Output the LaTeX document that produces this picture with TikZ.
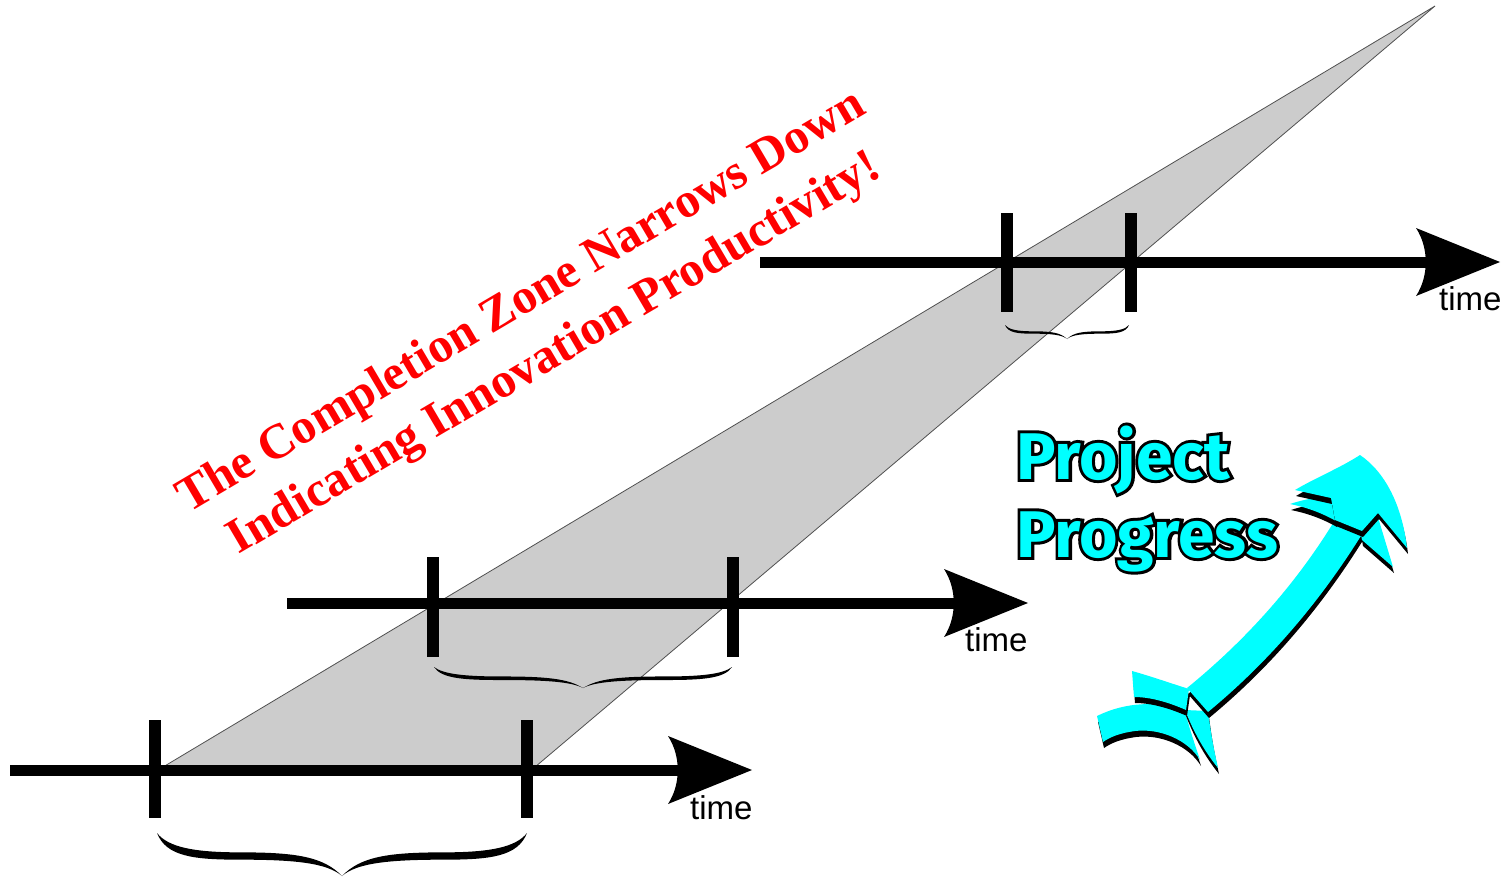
\documentclass[tikz,border=0pt]{standalone}
\usepackage{fontspec}
\setmainfont{Liberation Sans}
\newfontfamily\serifbold{Liberation Serif}
\newfontfamily\ppfont{Fira Sans}
\newfontfamily\ppoutline{Fira Sans}[BoldFeatures={FakeBold=9}]
\usetikzlibrary{calc}
\definecolor{zonegray}{HTML}{CCCCCC}
\definecolor{zoneedge}{HTML}{505050}
\definecolor{arrowcyan}{HTML}{00FFFF}
\definecolor{titlered}{HTML}{FF0000}
\tikzset{
  axisline/.style={line width=11pt, line cap=butt},
  tickmark/.style={line width=12pt, line cap=butt},
  timelbl/.style={font=\fontsize{33}{38}\selectfont, inner sep=0pt, anchor=base west},
  redlbl/.style={font=\serifbold\bfseries\fontsize{49.2}{59}\selectfont, text=titlered, inner sep=0pt, anchor=base, rotate=30.5},
  pplbl/.style={font=\ppfont\bfseries\fontsize{66}{76}\selectfont, inner sep=0pt, anchor=base west},
  ppoutlbl/.style={font=\ppoutline\bfseries\fontsize{66}{76}\selectfont, inner sep=0pt, anchor=base west, text=black},
  cyanpart/.style={fill=arrowcyan},
  shadowpart/.style={fill=black, shift={(1,6)}},
}
\newcommand\axhead[1]{\begin{scope}[shift={(#1)}]
  \fill (0,0) -- (-84,-34) .. controls (-71,-14) and (-71,14) .. (-84,34) -- cycle;
\end{scope}}
\newcommand\halfbracepath{(0,0) .. controls (0.05,0.55) and (0.2,0.62) .. (0.45,0.62) .. controls (0.75,0.62) and (0.92,0.7) .. (1,1) .. controls (0.9,0.55) and (0.75,0.45) .. (0.45,0.45) .. controls (0.2,0.45) and (0.06,0.33) .. (0,0) -- cycle}
\newcommand\cbrace[4]{%
  \pgfmathsetmacro\hw{(#2-#1)/2}%
  \begin{scope}[shift={(#1,#3)}, x={(\hw pt,0pt)}, y={(0pt,-#4 pt)}] \fill \halfbracepath; \end{scope}
  \begin{scope}[shift={(#2,#3)}, x={(-\hw pt,0pt)}, y={(0pt,-#4 pt)}] \fill \halfbracepath; \end{scope}}
\newcommand\shadowed[1]{\fill[shadowpart] #1; \fill[cyanpart] #1;}
\begin{document}
\begin{tikzpicture}[x=1pt, y=-1pt]
\useasboundingbox (0,0) rectangle (1507,878);
\fill[white] (0,0) rectangle (1507,878);

% completion zone
\filldraw[fill=zonegray, draw=zoneedge, line width=0.8pt] (163,767) -- (1435,6) -- (535,767) -- cycle;

% axes
\coordinate (b0) at (10,770);  \coordinate (bt) at (752,770);
\coordinate (m0) at (287,603); \coordinate (mt) at (1028,603);
\coordinate (u0) at (760,262); \coordinate (ut) at (1500,262);
\draw[axisline] (b0) -- ($(bt)+(-60,0)$);
\draw[axisline] (m0) -- ($(mt)+(-60,0)$);
\draw[axisline] (u0) -- ($(ut)+(-60,0)$);
\axhead{bt}\axhead{mt}\axhead{ut}

% ticks
\draw[tickmark] (155,720) -- (155,818);
\draw[tickmark] (527,720) -- (527,818);
\draw[tickmark] (433,557) -- (433,657);
\draw[tickmark] (733,557) -- (733,657);
\draw[tickmark] (1007,213) -- (1007,312);
\draw[tickmark] (1131,213) -- (1131,312);

% braces
\cbrace{157}{527}{833}{43}
\cbrace{434}{732}{667}{21}
\cbrace{1005}{1129}{325}{14}

% time labels
\node[timelbl] (tb) at (690,819) {time};
\node[timelbl] (tm) at (965,651) {time};
\node[timelbl] (tu) at (1439,310) {time};

% red title
\node[redlbl] (r1) at (528,313) {The Completion Zone Narrows Down};
\node[redlbl] (r2) at (561,365) {Indicating Innovation Productivity!};

% project progress
\coordinate (ppA) at (1016,479);
\coordinate (ppB) at (1016,557);
\node[ppoutlbl] (po1) at (ppA) {Project};
\node[ppoutlbl] (po2) at (ppB) {Progress};
\node[pplbl, text=arrowcyan] (pp1) at (ppA) {Project};
\node[pplbl, text=arrowcyan] (pp2) at (ppB) {Progress};

% cyan progress arrow
\shadowed{(1097,716) .. controls (1125,702) and (1160,700) .. (1185,712) .. controls (1190,730) and (1195,745) .. (1200,760) .. controls (1188,740) and (1160,728) .. (1135,731) .. controls (1120,733) and (1110,737) .. (1103,742) -- cycle}
\shadowed{(1185,710) -- (1208,711) .. controls (1211,735) and (1214,750) .. (1218,768) .. controls (1205,752) and (1194,733) .. (1185,710) -- cycle}
\shadowed{(1132,671) .. controls (1150,676) and (1170,683) .. (1189,689) -- (1186,710) .. controls (1168,702) and (1150,697) .. (1134,697) -- cycle}
\shadowed{(1187,688) .. controls (1246,640) and (1296,584) .. (1335,520) -- (1364,531) .. controls (1322,599) and (1271,660) .. (1208,712) -- cycle}
\shadowed{(1360,529) -- (1377,514) -- (1393,567) -- (1362,540) -- cycle}
\shadowed{(1290,504) .. controls (1305,499) and (1318,497) .. (1331,497) -- (1336,521) .. controls (1320,512) and (1305,507) .. (1290,504) -- cycle}
\shadowed{(1335,520) -- (1331,498) -- (1295,490) .. controls (1315,478) and (1340,468) .. (1360,455) .. controls (1385,472) and (1402,505) .. (1407,548) -- (1378,513) -- (1362,531) -- cycle}
\end{tikzpicture}
\end{document}
